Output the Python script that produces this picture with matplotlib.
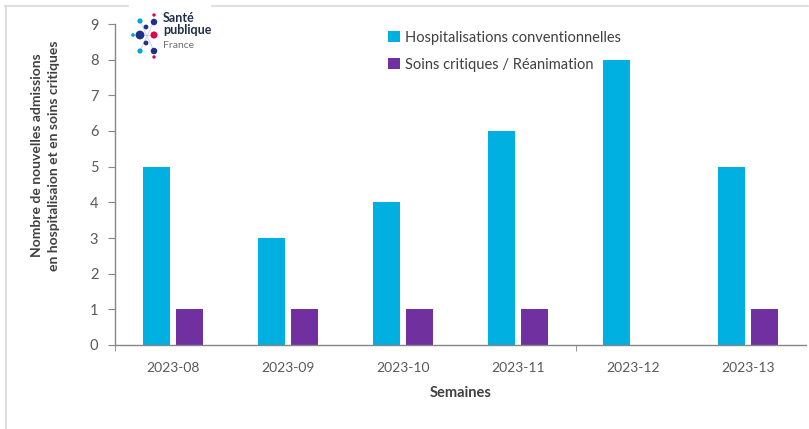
#External libraries import
import matplotlib
matplotlib.use("Agg")
import matplotlib.pyplot as plt
from matplotlib.lines import Line2D
import numpy as np

#Data
semaines = ['2023-08', '2023-09', '2023-10', '2023-11', '2023-12', '2023-13']
hospitalisations = [5, 3, 4, 6, 8, 5]
soins_critiques = [1, 1, 1, 1, 0, 1]
series_labels = ['Hospitalisations conventionnelles', 'Soins critiques / Réanimation']

BLUE = '#00B0E0'
PURPLE = '#7030A0'
TEXT = '#595959'
AXIS = '#868686'

plt.rcParams['font.family'] = ['Lato', 'DejaVu Sans']

fig = plt.figure(figsize=(8.09, 4.29), dpi=100)
ax = fig.add_axes([115 / 809, 1 - 345 / 429, 691 / 809, 321 / 429])

#Bars
x = np.arange(len(semaines))
width = 0.235
ax.bar(x - 0.143, hospitalisations, width, color=BLUE, label=series_labels[0], zorder=2)
ax.bar(x + 0.143, soins_critiques, width, color=PURPLE, label=series_labels[1], zorder=2)

#Axes details
ax.set_xlim(-0.5, 5.5)
ax.set_ylim(0, 9)
ax.set_yticks(range(10))
ax.set_xticks(x, semaines)
ax.set_xticks([-0.5, 3.5], minor=True)
ax.tick_params(axis='x', which='major', length=0, labelsize=10, colors=TEXT, pad=12)
ax.tick_params(axis='x', which='minor', length=4, color=AXIS, direction='out')
ax.tick_params(axis='y', length=5, color=AXIS, labelsize=10.5, labelcolor=TEXT, pad=7)
for side in ['top', 'right']:
    ax.spines[side].set_visible(False)
for side in ['left', 'bottom']:
    ax.spines[side].set_color(AXIS)
    ax.spines[side].set_linewidth(1.0)

ax.set_xlabel('Semaines', fontsize=10.5, fontweight='bold', color='#404040', labelpad=9)
ax.set_ylabel('Nombre de nouvelles admissions\nen hospitalisaion et en soins critiques',
              fontsize=10, fontweight='bold', color='#404040', linespacing=1.45)
ax.yaxis.set_label_coords(-0.08, 0.59)

ax.legend(loc='upper left', bbox_to_anchor=(382 / 809, 1 - 25 / 429), bbox_transform=fig.transFigure,
          frameon=False, fontsize=10.5, labelcolor='#404040', handlelength=0.8, handleheight=0.8,
          handletextpad=0.4, labelspacing=0.9, borderaxespad=0)

#Outer frame with gap for the logo
frame = '#d9d9d9'
fig.add_artist(Line2D([5 / 809, 128 / 809], [1 - 6 / 429] * 2, color=frame, lw=1.2))
fig.add_artist(Line2D([212 / 809, 808 / 809], [1 - 6 / 429] * 2, color=frame, lw=1.2))
fig.add_artist(Line2D([6 / 809] * 2, [1 - 6 / 429, 0], color=frame, lw=1.2))

#Santé publique France logo (coordinates in pixels of the figure)
logo = fig.add_axes([128 / 809, 1 - 60 / 429, 32 / 809, 50 / 429])
logo.set_xlim(128, 160)
logo.set_ylim(60, 10)
logo.axis('off')
dots_x = [154, 154, 140, 146, 140, 133, 154, 146, 140, 154, 154]
dots_y = [15, 22, 21, 27, 35, 35, 35, 43, 51, 51, 57]
dots_c = ['#e6004b', '#1f2f8a', '#00a5e0', '#1f2f8a', '#1f2f8a', '#00a5e0', '#e6004b',
          '#1f2f8a', '#00a5e0', '#1f2f8a', '#e6004b']
dots_s = [6, 22, 14, 12, 40, 7, 26, 12, 14, 22, 6]
logo.plot([133, 154], [35, 35], color='#c8cbe0', lw=0.6, zorder=1)
logo.plot([140, 154], [21, 51], color='#c8cbe0', lw=0.6, zorder=1)
logo.plot([140, 154], [51, 21], color='#c8cbe0', lw=0.6, zorder=1)
logo.scatter(dots_x, dots_y, s=dots_s, c=dots_c, zorder=3, linewidths=0)
fig.text(163 / 809, 1 - 24 / 429, 'Santé\npublique', fontsize=9, fontweight='bold',
         color='#1f2f4a', va='center', ha='left', linespacing=1.0)
fig.text(163 / 809, 1 - 45 / 429, 'France', fontsize=7.5, color='#6d6e71', va='center', ha='left')

plt.savefig('out.png', dpi=100)
plt.close(fig)
